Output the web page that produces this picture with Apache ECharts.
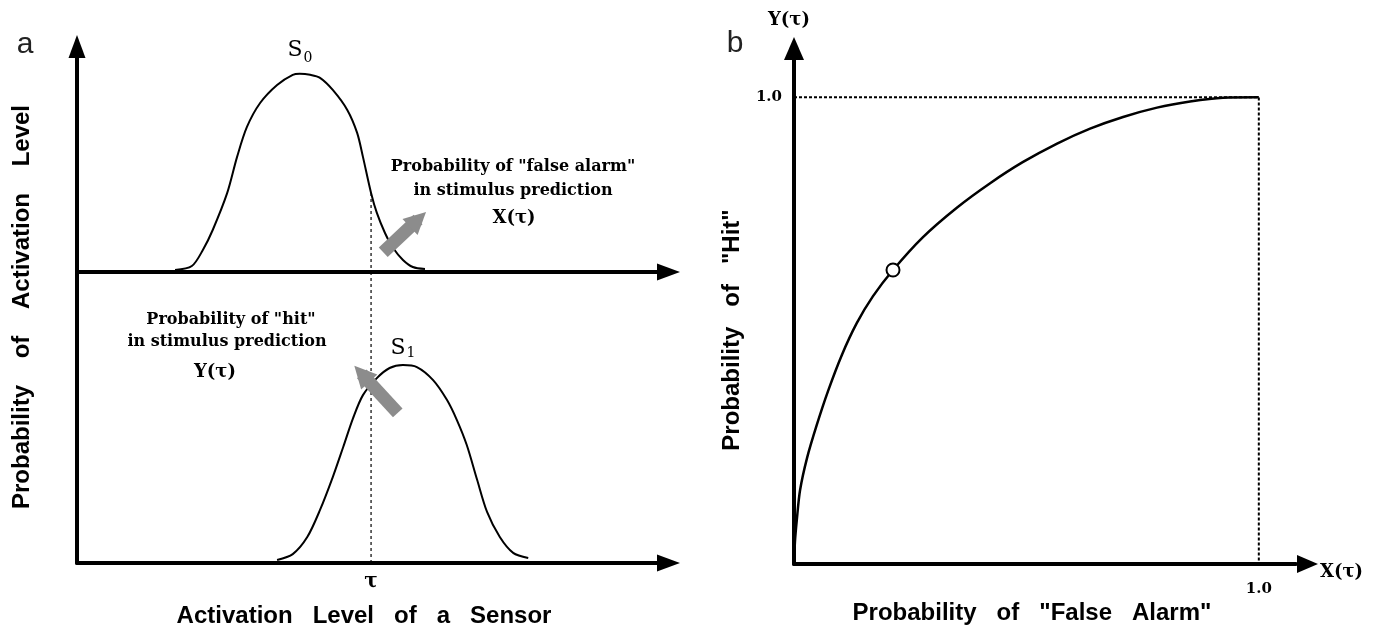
<!DOCTYPE html>
<html>
<head>
<meta charset="utf-8">
<script src="https://cdn.jsdelivr.net/npm/echarts@6/dist/echarts.min.js"></script>
<style>
  html,body{margin:0;padding:0;background:#fff;}
  #main{width:1389px;height:635px;}
</style>
</head>
<body>
<div id="main"></div>
<script>
// ---- data ----
// panel a: activation level (0-100), density normalised so that the peak = 1
var s0X = [16.9, 19.8, 21.7, 23.4, 25.9, 27.6, 29.3, 31.6, 34.5, 37.2, 38.4, 40.2, 41.9, 44.1, 46.6, 48.3, 49.3, 50.7, 51.7, 53.1, 54.5, 56.2, 57.9, 60.0];
var s0Y = [0.01, 0.03, 0.111, 0.212, 0.399, 0.581, 0.732, 0.854, 0.944, 0.995, 1.0, 0.995, 0.98, 0.919, 0.818, 0.702, 0.581, 0.399, 0.298, 0.197, 0.121, 0.061, 0.025, 0.015];
var s1X = [34.5, 37.2, 39.7, 41.9, 44.1, 45.9, 47.6, 49.3, 51.7, 53.9, 56.2, 58.6, 61.4, 63.8, 65.5, 67.2, 69.0, 70.7, 72.9, 75.2, 77.8];
var s1Y = [0.015, 0.045, 0.131, 0.268, 0.434, 0.586, 0.732, 0.848, 0.934, 0.985, 1.0, 0.99, 0.924, 0.823, 0.722, 0.596, 0.419, 0.258, 0.131, 0.051, 0.025];
var tau = 50.7;          // threshold
var tauOnS0 = 0.399;     // S0 height at tau
var panelAMaxX = 100;
var panelATopMaxY = 1.08;
var panelABottomMaxY = 1.47;
// gray arrows: [tail, head]
var arrowFalseAlarm = [[52.8, 0.10], [58.8, 0.265]];
var arrowHit = [[55.3, 0.758], [49.1, 0.955]];

// panel b: ROC curve, X(tau) vs Y(tau)
var rocX = [0, 0.002, 0.006, 0.013, 0.028, 0.049, 0.073, 0.103, 0.135, 0.170, 0.213, 0.277, 0.351, 0.422, 0.492, 0.566, 0.637, 0.708, 0.781, 0.852, 0.923, 1.0];
var rocY = [0, 0.047, 0.094, 0.158, 0.227, 0.298, 0.370, 0.448, 0.516, 0.574, 0.63, 0.70, 0.764, 0.816, 0.861, 0.901, 0.933, 0.958, 0.978, 0.991, 0.999, 1.0];
var operatingPoint = [0.213, 0.63];
var boxX = [0, 1, 1];
var boxY = [1, 1, 0];
var panelBMax = 1.08;

function zip(a, b) {
  var out = [];
  for (var i = 0; i < a.length; i++) out.push([a[i], b[i]]);
  return out;
}

var sansB = 'bold 24px "Liberation Sans", Arial, sans-serif';
var serifB = 'bold 16px "DejaVu Serif", serif';
var serifB18 = 'bold 18px "DejaVu Serif", serif';

// axis line with a filled triangle at the end
function axisLine(arrow, size) {
  return {
    show: true,
    onZero: false,
    symbol: arrow ? ['none', 'triangle'] : ['none', 'none'],
    symbolSize: size || [17, 23],
    symbolOffset: [0, 11.5],
    lineStyle: { color: '#000', width: 4 }
  };
}

var myChart = echarts.init(document.getElementById('main'));

option = {
  animation: false,
  backgroundColor: '#fff',
  grid: [
    { left: 77, top: 58, width: 580, height: 214, outerBoundsMode: 'none' },   // a top
    { left: 77, top: 272, width: 580, height: 291, outerBoundsMode: 'none' },  // a bottom
    { left: 794, top: 60, width: 502, height: 504, outerBoundsMode: 'none' }   // b
  ],
  xAxis: [
    { type: 'value', gridIndex: 0, min: 0, max: panelAMaxX, axisLine: axisLine(true), axisTick: { show: false }, axisLabel: { show: false }, splitLine: { show: false } },
    { type: 'value', gridIndex: 1, min: 0, max: panelAMaxX, axisLine: axisLine(true), axisTick: { show: false }, splitLine: { show: false },
      axisLabel: { show: true, customValues: [tau], formatter: function () { return 'τ'; }, margin: 9, color: '#000', fontFamily: 'DejaVu Serif', fontWeight: 'bold', fontSize: 20 } },
    { type: 'value', gridIndex: 2, min: 0, max: panelBMax, axisLine: axisLine(true, [18, 21]), axisTick: { show: false }, splitLine: { show: false },
      axisLabel: { show: true, customValues: [1], formatter: function () { return '1.0'; }, margin: 18, color: '#000', fontFamily: 'DejaVu Serif', fontWeight: 'bold', fontSize: 15 } }
  ],
  yAxis: [
    { type: 'value', gridIndex: 0, min: 0, max: panelATopMaxY, axisLine: axisLine(true), axisTick: { show: false }, axisLabel: { show: false }, splitLine: { show: false } },
    { type: 'value', gridIndex: 1, min: 0, max: panelABottomMaxY, axisLine: axisLine(false), axisTick: { show: false }, axisLabel: { show: false }, splitLine: { show: false } },
    { type: 'value', gridIndex: 2, min: 0, max: panelBMax, axisLine: axisLine(true, [20, 23]), axisTick: { show: false }, splitLine: { show: false },
      axisLabel: { show: true, customValues: [1], formatter: function () { return '1.0'; }, margin: 12, color: '#000', fontFamily: 'DejaVu Serif', fontWeight: 'bold', fontSize: 15 } }
  ],
  series: [
    // S0 distribution
    { type: 'line', xAxisIndex: 0, yAxisIndex: 0, data: zip(s0X, s0Y), smooth: 0.3, showSymbol: false,
      lineStyle: { color: '#000', width: 2 }, z: 3 },
    // S1 distribution
    { type: 'line', xAxisIndex: 1, yAxisIndex: 1, data: zip(s1X, s1Y), smooth: 0.3, showSymbol: false,
      lineStyle: { color: '#000', width: 2 }, z: 3 },
    // threshold tau
    { type: 'line', xAxisIndex: 0, yAxisIndex: 0, data: [[tau, tauOnS0], [tau, 0]], showSymbol: false,
      lineStyle: { color: '#000', width: 1.2, type: [3, 3] }, z: 2 },
    { type: 'line', xAxisIndex: 1, yAxisIndex: 1, data: [[tau, panelABottomMaxY], [tau, 0]], showSymbol: false,
      lineStyle: { color: '#000', width: 1.2, type: [3, 3] }, z: 2 },
    // gray arrows
    { type: 'lines', coordinateSystem: 'cartesian2d', xAxisIndex: 0, yAxisIndex: 0,
      data: [{ coords: arrowFalseAlarm }], symbol: ['none', 'triangle'], symbolSize: [28, 22],
      lineStyle: { color: '#8c8c8c', width: 13, opacity: 1, cap: 'butt' }, itemStyle: { color: '#8c8c8c' }, z: 4 },
    { type: 'lines', coordinateSystem: 'cartesian2d', xAxisIndex: 1, yAxisIndex: 1,
      data: [{ coords: arrowHit }], symbol: ['none', 'triangle'], symbolSize: [28, 22],
      lineStyle: { color: '#8c8c8c', width: 13, opacity: 1, cap: 'butt' }, itemStyle: { color: '#8c8c8c' }, z: 4 },
    // panel b dotted box
    { type: 'line', xAxisIndex: 2, yAxisIndex: 2, data: zip(boxX, boxY), showSymbol: false,
      lineStyle: { color: '#000', width: 2, type: [3, 2] }, z: 2 },
    // ROC curve
    { type: 'line', xAxisIndex: 2, yAxisIndex: 2, data: zip(rocX, rocY), smooth: 0.3, showSymbol: false,
      lineStyle: { color: '#000', width: 2.5 }, z: 3 },
    // operating point
    { type: 'scatter', xAxisIndex: 2, yAxisIndex: 2, data: [operatingPoint], symbolSize: 13,
      itemStyle: { color: '#fff', borderColor: '#000', borderWidth: 2, opacity: 1 }, z: 5 }
  ],
  graphic: [
    // panel letters
    { type: 'text', x: 25, y: 45, style: { text: 'a', font: '30px "Liberation Sans", sans-serif', fill: '#222', align: 'center', verticalAlign: 'middle' } },
    { type: 'text', x: 735, y: 44, style: { text: 'b', font: '30px "Liberation Sans", sans-serif', fill: '#222', align: 'center', verticalAlign: 'middle' } },
    // axis titles
    { type: 'text', x: 22, y: 307, rotation: Math.PI / 2, style: { text: 'Probability    of    Activation    Level', font: sansB, fill: '#000', align: 'center', verticalAlign: 'middle' } },
    { type: 'text', x: 364, y: 616, style: { text: 'Activation   Level   of   a   Sensor', font: sansB, fill: '#000', align: 'center', verticalAlign: 'middle' } },
    { type: 'text', x: 732, y: 330, rotation: Math.PI / 2, style: { text: 'Probability   of   "Hit"', font: sansB, fill: '#000', align: 'center', verticalAlign: 'middle' } },
    { type: 'text', x: 1032, y: 613, style: { text: 'Probability   of   "False   Alarm"', font: sansB, fill: '#000', align: 'center', verticalAlign: 'middle' } },
    // S0 / S1 labels
    { type: 'text', x: 295, y: 50, style: { text: 'S', font: '22px "DejaVu Serif", serif', fill: '#000', align: 'center', verticalAlign: 'middle' } },
    { type: 'text', x: 308, y: 58, style: { text: '0', font: '14px "DejaVu Serif", serif', fill: '#000', align: 'center', verticalAlign: 'middle' } },
    { type: 'text', x: 398, y: 348, style: { text: 'S', font: '22px "DejaVu Serif", serif', fill: '#000', align: 'center', verticalAlign: 'middle' } },
    { type: 'text', x: 411, y: 353, style: { text: '1', font: '14px "DejaVu Serif", serif', fill: '#000', align: 'center', verticalAlign: 'middle' } },
    // annotations
    { type: 'text', x: 513, y: 167, style: { text: 'Probability of "false alarm"', font: serifB, fill: '#000', align: 'center', verticalAlign: 'middle' } },
    { type: 'text', x: 513, y: 191, style: { text: 'in stimulus prediction', font: serifB, fill: '#000', align: 'center', verticalAlign: 'middle' } },
    { type: 'text', x: 514, y: 218, style: { text: 'X(τ)', font: serifB18, fill: '#000', align: 'center', verticalAlign: 'middle' } },
    { type: 'text', x: 231, y: 320, style: { text: 'Probability of "hit"', font: serifB, fill: '#000', align: 'center', verticalAlign: 'middle' } },
    { type: 'text', x: 227, y: 342, style: { text: 'in stimulus prediction', font: serifB, fill: '#000', align: 'center', verticalAlign: 'middle' } },
    { type: 'text', x: 215, y: 372, style: { text: 'Y(τ)', font: serifB18, fill: '#000', align: 'center', verticalAlign: 'middle' } },
    // panel b axis end labels
    { type: 'text', x: 789, y: 20, style: { text: 'Y(τ)', font: serifB18, fill: '#000', align: 'center', verticalAlign: 'middle' } },
    { type: 'text', x: 1320, y: 572, style: { text: 'X(τ)', font: serifB18, fill: '#000', align: 'left', verticalAlign: 'middle' } }
  ]
};

myChart.setOption(option);
</script>
</body>
</html>
